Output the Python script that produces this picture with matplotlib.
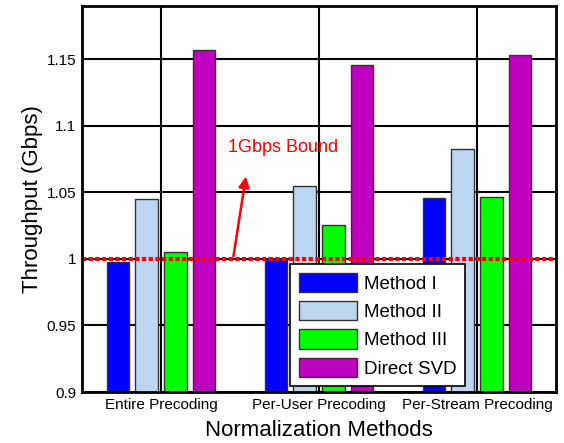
import numpy as np
import matplotlib
matplotlib.use('Agg')
import matplotlib.pyplot as plt

plt.rcParams['font.family'] = ['Liberation Sans', 'DejaVu Sans']

groups = ['Entire Precoding', 'Per-User Precoding', 'Per-Stream Precoding']
methods = ['Method I', 'Method II', 'Method III', 'Direct SVD']
method_1 = [0.998, 1.000, 1.0455]
method_2 = [1.0447, 1.0545, 1.0823]
method_3 = [1.0053, 1.0253, 1.0463]
direct_svd = [1.1573, 1.1455, 1.1535]
bound = 1.0

colors = ['#0000FF', '#BCD6F2', '#00FF00', '#C000C0']
series = [method_1, method_2, method_3, direct_svd]

fig = plt.figure(figsize=(5.64, 4.43), dpi=100)
ax = fig.add_axes([82/564, 1-392/443, 474/564, 386/443])

x = np.arange(1, len(groups)+1)
step = 0.183
width = 0.14
for i, (vals, c, lab) in enumerate(zip(series, colors, methods)):
    ax.bar(x + (i-1.5)*step, np.array(vals) - 0.895, bottom=0.895, width=width,
           color=c, edgecolor='#333333', linewidth=1.0, label=lab, zorder=2)

ax.axhline(bound, color='red', linestyle=(0, (1, 0.6)), linewidth=3, zorder=4)
ax.annotate('', xy=(1.54, 1.064), xytext=(1.456, bound),
            arrowprops=dict(arrowstyle='-|>', color='red', lw=1.8,
                            mutation_scale=16), zorder=5)
ax.text(1.424, 1.0836, '1Gbps Bound', color='red', fontsize=13,
        va='center', ha='left', zorder=5)

ax.set_xlim(0.5, 3.5)
ax.set_ylim(0.9, 1.19)
ax.set_xticks(x)
ax.set_xticklabels(groups, fontsize=11)
ax.set_yticks([0.9, 0.95, 1.0, 1.05, 1.1, 1.15])
ax.set_yticklabels(['0.9', '0.95', '1', '1.05', '1.1', '1.15'], fontsize=11)
ax.tick_params(length=0, pad=4)
ax.grid(True, color='black', linewidth=1.5, zorder=0)
ax.set_axisbelow(True)
for s in ax.spines.values():
    s.set_linewidth(2)
    s.set_zorder(6)

ax.set_xlabel('Normalization Methods', fontsize=16, labelpad=6)
ax.set_ylabel('Throughput (Gbps)', fontsize=16, labelpad=3)

leg = ax.legend(loc='upper left', bbox_to_anchor=(0.439, 0.331), fontsize=13.5,
                handlelength=3.1, handleheight=1.2, fancybox=False,
                framealpha=1, edgecolor='black', borderpad=0.45,
                labelspacing=0.45, handletextpad=0.4, borderaxespad=0)
leg.get_frame().set_linewidth(1.2)
leg.set_zorder(7)

fig.savefig('out.png', dpi=100)
